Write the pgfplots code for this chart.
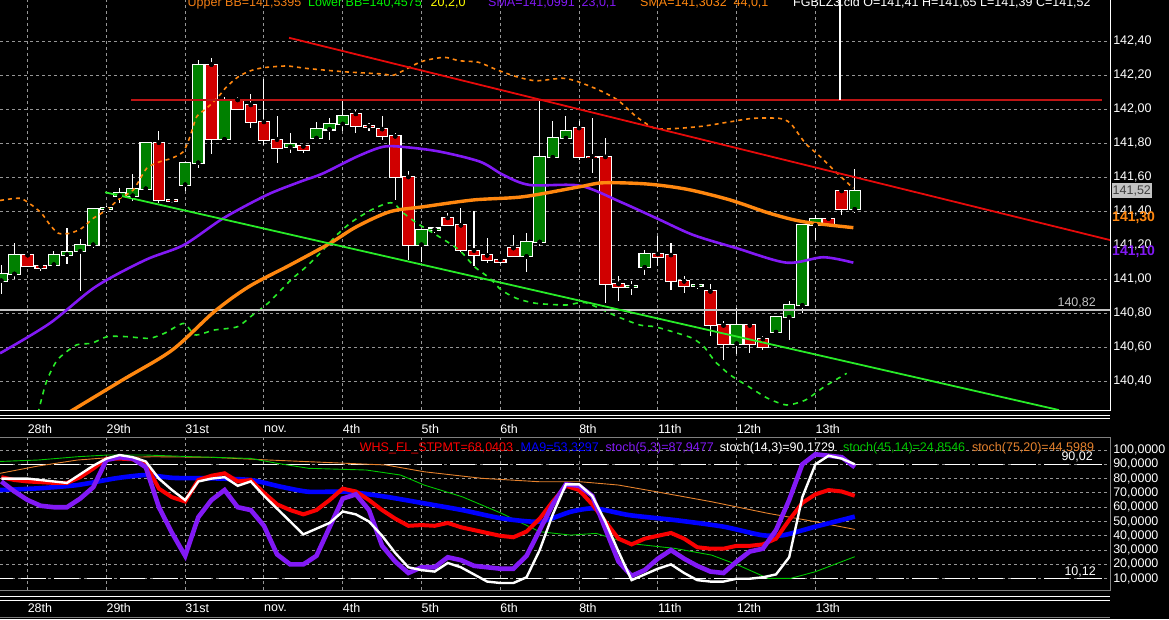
\documentclass[border=0pt]{standalone}
\usepackage{fontspec}
\setmainfont{Liberation Sans}
\usepackage{pgfplots}
\usepackage{pgfplotstable}
\pgfplotsset{compat=1.18}

\definecolor{cgreen}{RGB}{0,128,0}
\definecolor{cred}{RGB}{208,0,0}
\definecolor{gridc}{RGB}{150,150,150}
\definecolor{smaA}{RGB}{130,25,245}
\definecolor{smaB}{RGB}{255,135,15}
\definecolor{limeg}{RGB}{40,235,40}
\definecolor{trendr}{RGB}{230,10,10}
\definecolor{hred}{RGB}{190,20,20}
\definecolor{lgrey}{RGB}{195,195,195}
\definecolor{oscred}{RGB}{250,0,0}
\definecolor{oscblue}{RGB}{0,0,255}
\definecolor{oscgreen}{RGB}{0,200,0}
\definecolor{oscorange}{RGB}{230,130,45}
\definecolor{titleorange}{RGB}{240,125,20}
\definecolor{titlegreen}{RGB}{0,240,0}
\definecolor{titleyellow}{RGB}{255,255,0}

\newcommand\ft{\fontsize{12.5}{14}\selectfont}

% candles: i open high low close
\pgfplotstableread{
i o h l c
-2 140.99 141.08 140.91 141.03
-1 141.03 141.21 141.00 141.14
2 141.085 141.165 141.085 141.143
3 141.143 141.302 141.086 141.159
4 141.163 141.237 140.929 141.202
5 141.202 141.42 141.184 141.414
6 141.41 141.43 141.39 141.415
7 141.49 141.537 141.449 141.505
8 141.49 141.616 141.459 141.531
9 141.531 141.802 141.531 141.802
12 141.555 141.684 141.518 141.684
13 141.684 142.286 141.655 142.261
15 141.822 142.07 141.816 142.053
20 141.776 141.861 141.743 141.792
22 141.829 141.924 141.829 141.880
23 141.880 141.947 141.816 141.912
24 141.912 142.049 141.869 141.957
30 141.202 141.288 141.098 141.288
31 141.29 141.30 141.27 141.297
38 141.133 141.271 141.039 141.218
39 141.218 142.049 141.192 141.716
40 141.716 141.931 141.71 141.829
41 141.829 141.957 141.816 141.869
46 140.955 140.986 140.908 140.958
47 141.069 141.173 141.025 141.147
51 140.961 140.975 140.941 140.967
54 140.620 140.829 140.56 140.727
57 140.688 140.775 140.688 140.775
58 140.775 140.869 140.643 140.845
59 140.845 141.316 140.80 141.316
60 141.316 141.378 141.231 141.355
63 141.41 141.65 141.39 141.52
}\greenT

\pgfplotstableread{
i o h l c
0 141.14 141.14 141.07 141.075
1 141.075 141.075 141.047 141.063
10 141.802 141.871 141.449 141.463
11 141.463 141.47 141.45 141.459
14 142.261 142.302 141.733 141.822
16 142.053 142.07 141.998 141.998
17 142.024 142.086 141.89 141.924
18 141.924 142.175 141.788 141.820
19 141.82 141.959 141.684 141.773
21 141.78 141.78 141.741 141.759
25 141.971 141.992 141.859 141.902
26 141.90 141.92 141.87 141.897
27 141.882 141.957 141.82 141.839
28 141.839 141.86 141.467 141.600
29 141.600 141.633 141.114 141.202
32 141.359 141.39 141.316 141.316
33 141.316 141.418 141.16 141.173
34 141.167 141.398 141.075 141.143
35 141.139 141.241 141.094 141.114
36 141.114 141.12 141.086 141.10
37 141.182 141.261 141.133 141.133
42 141.888 141.93 141.70 141.716
43 141.72 141.947 141.624 141.716
44 141.718 141.83 140.859 140.971
45 140.971 141.016 140.869 140.951
48 141.147 141.251 141.075 141.131
49 141.141 141.212 140.937 140.986
50 140.986 141.020 140.918 140.961
52 140.927 140.971 140.663 140.731
53 140.727 140.751 140.525 140.620
55 140.727 140.727 140.565 140.620
56 140.647 140.663 140.584 140.598
61 141.355 141.355 141.31 141.324
62 141.518 141.518 141.378 141.412
}\redT

% SMA 23 (purple)
\pgfplotstableread{
i p
-2.10 140.563
1.68 140.739
5.19 140.955
8.97 141.112
11.89 141.200
14.90 141.357
18.21 141.494
20.75 141.572
22.52 141.622
25.06 141.719
27.09 141.778
28.87 141.775
31.41 141.749
34.46 141.690
36.23 141.612
38.25 141.553
42.06 141.549
45.11 141.455
47.91 141.357
50.70 141.259
54.01 141.181
57.81 141.096
60.60 141.128
62.89 141.096
}\smaAT

% SMA 44 (orange)
\pgfplotstableread{
i p
2.6 140.19
7.23 140.406
11.01 140.582
14.22 140.808
16.85 140.955
19.98 141.082
23.03 141.210
25.06 141.308
27.60 141.396
30.14 141.425
33.95 141.465
37.75 141.484
42.07 141.543
43.85 141.566
47.15 141.559
50.20 141.528
53.50 141.465
56.54 141.386
59.08 141.337
62.89 141.302
}\smaBT

% Upper Bollinger band
\pgfplotstableread{
i p
-2.10 141.462
-0.58 141.475
0.31 141.435
1.07 141.386
1.71 141.318
2.34 141.269
3.23 141.269
4.12 141.298
5.00 141.357
6.02 141.406
7.04 141.475
8.05 141.524
9.07 141.651
10.08 141.690
10.97 141.710
11.86 141.749
12.37 141.837
12.88 141.955
13.64 142.004
14.52 142.072
15.16 142.131
16.05 142.190
16.94 142.224
17.95 142.243
19.73 142.253
21.22 142.239
24.13 142.219
27.04 142.206
27.92 142.200
29.96 142.278
31.71 142.304
32.87 142.284
34.33 142.275
35.79 142.229
37.24 142.190
38.71 142.166
40.75 142.181
41.91 142.161
43.50 142.112
44.94 142.053
46.36 141.955
47.79 141.886
49.51 141.886
51.52 141.900
53.52 141.925
55.23 141.945
57.24 141.945
58.10 141.916
59.24 141.798
60.38 141.719
61.53 141.631
62.89 141.534
}\bbUT

% Lower Bollinger band
\pgfplotstableread{
i p
0.60 140.15
1.39 140.386
2.27 140.524
3.72 140.612
4.89 140.622
6.06 140.661
7.52 140.661
9.27 140.651
10.43 140.681
11.89 140.739
12.76 140.671
14.22 140.700
15.97 140.719
17.14 140.788
18.30 140.857
20.05 140.994
21.22 141.072
22.38 141.161
23.55 141.259
24.71 141.337
26.17 141.406
27.33 141.445
27.92 141.445
28.50 141.396
29.66 141.328
31.13 141.259
32.87 141.171
34.04 141.072
35.21 141.004
36.08 140.935
37.24 140.886
38.71 140.857
41.04 140.847
42.49 140.861
44.94 140.778
46.65 140.729
47.79 140.719
49.51 140.681
50.65 140.651
51.51 140.602
52.37 140.514
53.52 140.435
54.94 140.366
56.37 140.298
57.81 140.259
59.24 140.288
60.67 140.366
62.38 140.445
}\bbLT

% Oscillators (per candle): WHS_EL_STPMT, stoch(5,3), stoch(14,3)
\pgfplotstableread{
i red pur wht
-2 81 78 80
-1 79 71 80
0 78 65 80
1 77.5 61 79
2 77 60 78
3 77 60 77
4 81 66 83
5 87 74 89
6 94 93 94
7 94 95 96.5
8 93.5 94 95
9 90 88 92
10 73 60 80
11 67 42 72
12 64 26 65
13 79 53 78
14 82 65 80
15 83.7 72 81
16 78 60 75
17 79 58 78
18 70 47 68
19 62 27 59
20 58 20 50
21 55 20 41
22 58 26 45
23 65 46 49
24 73 66 57
25 71 69 55
26 65 58 50
27 58 33 40
28 52 22 28
29 47 14 18
30 47.5 18 16
31 47 18 15
32 49 25 21
33 46 23 18
34 44 19 13
35 42 18 8
36 40 17 7
37 39 17 7
38 43 26 11
39 52 44 30
40 64 62 55
41 75 76 76
42 72 75 76
43 62 68 68
44 50 45 50
45 38 22 29
46 34 12 9
47 38 16 13
48 40 24 17
49 42 30 20
50 38 24 14
51 32 19 9
52 31 15 8
53 31 14 8
54 33 22 10
55 33 29 10
56 34 31 11
57 38 44 13
58 51 65 25
59 63 90 67
60 69 97 90
61 72 96 96
62 71 95 94
63 68 88 90
}\oscT

% MA9 (blue)
\pgfplotstableread{
i v
-2.1 72
0.8 73.2
3.8 75.5
6.7 80.2
9 82.5
11.1 80.5
14 80.2
17 79
19.3 74.3
21.4 70.8
24.3 70.8
27.3 67.3
30.2 62.7
33.1 58
36.1 52.2
39 49.9
41.4 56.9
43.2 59.2
45.8 54.5
49.3 51
53 46.4
55.9 40.5
57.6 40.5
60 46.4
63 53.4
}\maT

% stoch(45,14) (green)
\pgfplotstableread{
i v
-2.1 92
0.8 93
3.8 95.3
6.1 96.5
9 96.5
12.6 95.3
17 94.1
19 90.7
21.4 87.2
25.8 86
28.4 82.5
30.2 75.5
33.1 67.3
36.1 55.7
39 42.9
41.35 40.5
43.3 41.7
45.8 34.7
49.3 31.2
52.1 26.5
54.1 19.6
56.4 10.2
58.1 10.2
60 14.9
63 25.4
}\stgT

% stoch(75,20) (orange)
\pgfplotstableread{
i v
-2.1 83.7
0.8 88.8
3.8 93
6.1 94.6
9.6 95.3
14 94.9
18.4 93
24.3 90.7
27.3 89.5
30.2 84.8
34.6 80.2
39 77.8
42.1 77.8
45 75.5
47.9 70.8
52.1 63.8
56.4 55.7
59.3 51
63 44.5
}\stoT

\pgfplotsset{
  cbar/.style n args={2}{only marks, mark=none, forget plot,
    error bars/.cd, y dir=both, y explicit, error mark=none,
    error bar style={draw=#1, line width=#2, solid}},
  chartbase/.style={
    scale only axis, width=1110pt,
    xmin=-2.102, xmax=82.44,
    axis line style={draw=none},
    major tick length=0pt,
    xtick={0,6,...,60},
    xticklabels={28th,29th,31st,nov.,4th,5th,6th,8th,11th,12th,13th},
    grid=major,
    major grid style={draw=gridc, dash pattern=on 3pt off 3pt, line width=0.9pt},
    tick label style={text=white, font=\ft},
    /pgf/number format/assume math mode=true,
    yticklabel pos=right,
  },
}

\begin{document}
\begin{tikzpicture}
\useasboundingbox (0,0) rectangle (1169pt,-619pt);
\fill[black] (0,0) rectangle (1169pt,-619pt);
\begin{scope}
\clip (0,0) rectangle (1169pt,-619pt);

% ---------------- price panel ----------------
\begin{axis}[chartbase,
  at={(0pt,0pt)}, anchor=north west, height=410pt,
  ymin=140.2294, ymax=142.6412,
  ytick={140.4,140.6,140.8,141,141.2,141.4,141.6,141.8,142,142.2,142.4},
  yticklabel style={/pgf/number format/.cd, fixed, fixed zerofill, precision=2, use comma, /tikz/.cd, anchor=west, inner sep=0pt, xshift=3pt},
  xticklabel style={anchor=west, inner sep=0pt, yshift=-19pt},
]
% green candles
\addplot[cbar={white}{1.1pt}] table[x=i, y=o, y error plus expr=\thisrow{h}-\thisrow{o}, y error minus expr=\thisrow{o}-\thisrow{l}] {\greenT};
\addplot[cbar={white}{12.6pt}] table[x=i, y=o, y error plus expr=\thisrow{c}-\thisrow{o}+0.0065, y error minus expr=0.0065] {\greenT};
\addplot[cbar={cgreen}{10.4pt}] table[x=i, y=o, y error plus expr=\thisrow{c}-\thisrow{o}, y error minus expr=0] {\greenT};
% red candles
\addplot[cbar={white}{1.1pt}] table[x=i, y=o, y error plus expr=\thisrow{h}-\thisrow{o}, y error minus expr=\thisrow{o}-\thisrow{l}] {\redT};
\addplot[cbar={white}{12.6pt}] table[x=i, y=o, y error plus expr=0.0065, y error minus expr=\thisrow{o}-\thisrow{c}+0.0065] {\redT};
\addplot[cbar={cred}{10.4pt}] table[x=i, y=o, y error plus expr=0, y error minus expr=\thisrow{o}-\thisrow{c}] {\redT};

% bands and averages
\addplot[smaB, line width=1.6pt, dash pattern=on 4pt off 4pt, smooth, tension=0.4] table {\bbUT};
\addplot[limeg, line width=1.6pt, dash pattern=on 5pt off 5pt, smooth, tension=0.4] table {\bbLT};
\addplot[lgrey, line width=1.8pt] coordinates {(-3,140.82) (83,140.82)};
\addplot[smaA, line width=2.6pt, smooth, tension=0.5] table {\smaAT};
\addplot[smaB, line width=3.4pt, smooth, tension=0.5] table {\smaBT};
% trend lines
\addplot[hred, line width=2.6pt] coordinates {(7.87,142.053) (81.83,142.053)};
\addplot[white, line width=1.4pt] coordinates {(61.87,142.053) (61.87,142.70)};
\addplot[trendr, line width=1.8pt] coordinates {(19.91,142.419) (82.44,141.229)};
\addplot[limeg, line width=1.8pt] coordinates {(5.91,141.510) (78.55,140.229)};
\end{axis}

% ---------------- oscillator panel ----------------
\begin{axis}[chartbase,
  at={(0pt,-437pt)}, anchor=north west, height=153pt,
  ymin=2.10, ymax=109.09,
  ytick={10,20,...,100},
  yticklabel style={/pgf/number format/.cd, fixed, fixed zerofill, precision=4, use comma, /tikz/.cd, anchor=west, inner sep=0pt, xshift=3pt},
  xticklabel style={anchor=west, inner sep=0pt, yshift=-18pt},
]
\addplot[white, line width=1.3pt, dash pattern=on 25pt off 8pt] coordinates {(-3,90.02) (83,90.02)};
\addplot[white, line width=1.3pt, dash pattern=on 25pt off 8pt] coordinates {(-3,10.12) (83,10.12)};
\addplot[oscorange, line width=0.9pt] table {\stoT};
\addplot[oscgreen, line width=0.9pt] table {\stgT};
\addplot[oscblue, line width=4.6pt, smooth, tension=0.4] table {\maT};
\addplot[oscred, line width=4pt] table[x=i, y=red] {\oscT};
\addplot[smaA, line width=4.6pt] table[x=i, y=pur] {\oscT};
\addplot[white, line width=2.4pt] table[x=i, y=wht] {\oscT};
\end{axis}

% frames and separators
\draw[white, line width=1pt] (0,-410pt) -- (1110pt,-410pt) -- (1110pt,0);
\draw[white, line width=0.9pt] (0,-415pt) -- (1110pt,-415pt);
\draw[white, line width=0.9pt] (0,-418.5pt) -- (1110pt,-418.5pt);
\draw[gray, line width=1pt] (0,-437pt) -- (1110pt,-437pt) -- (1110pt,-590pt) -- (0,-590pt);
\draw[white, line width=0.9pt] (0,-596.5pt) -- (1110pt,-596.5pt);
\draw[white, line width=0.9pt] (0,-600pt) -- (1110pt,-600pt);
\draw[gray, line width=1pt] (0,-617pt) -- (1110pt,-617pt);

% header of price panel (cut by the top edge)
\begin{scope}[every node/.style={anchor=base west, inner sep=0pt, font=\ft}]
\node[text=titleorange] at (187.5pt,-6pt) {Upper BB=141,5395};
\node[text=titlegreen] at (308pt,-6pt) {Lower BB=140,4575};
\node[text=titleyellow] at (430.5pt,-6pt) {20,2,0};
\node[text=smaA] at (488pt,-6pt) {SMA=141,0991\ \ 23,0,1};
\node[text=smaB] at (640pt,-6pt) {SMA=141,3032\ \ 44,0,1};
\node[text=white] at (793pt,-6pt) {FGBLZ3.cld O=141,41 H=141,65 L=141,39 C=141,52};
% header of oscillator panel
\node[text=oscred] at (359.7pt,-451pt) {WHS\_EL\_STPMT=68,0403};
\node[text=oscblue] at (520.5pt,-451pt) {MA9=53,3297};
\node[text=smaA] at (605.5pt,-451pt) {stoch(5,3)=87,9477};
\node[text=white] at (719.7pt,-451pt) {stoch(14,3)=90,1729};
\node[text=oscgreen] at (843pt,-451pt) {stoch(45,14)=24,8546};
\node[text=oscorange] at (971.8pt,-451pt) {stoch(75,20)=44,5989};
\end{scope}

% level labels
\node[anchor=east, inner sep=0pt, text=lgrey, font=\ft] at (1096pt,-303pt) {140,82};
\node[anchor=east, inner sep=0pt, text=white, font=\ft] at (1093pt,-457pt) {90,02};
\node[anchor=east, inner sep=0pt, text=white, font=\ft] at (1096pt,-572pt) {10,12};
\node[anchor=west, fill=lgrey, text=black!75, inner xsep=1pt, inner ysep=2.5pt, font=\ft] at (1111.5pt,-190.6pt) {141,52};
\node[anchor=west, inner sep=0pt, text=smaB, font=\fontsize{14}{16}\selectfont\bfseries] at (1112pt,-218pt) {141,30};
\node[anchor=west, inner sep=0pt, text=smaA, font=\fontsize{14}{16}\selectfont\bfseries] at (1112pt,-252pt) {141,10};
\end{scope}
\end{tikzpicture}
\end{document}
